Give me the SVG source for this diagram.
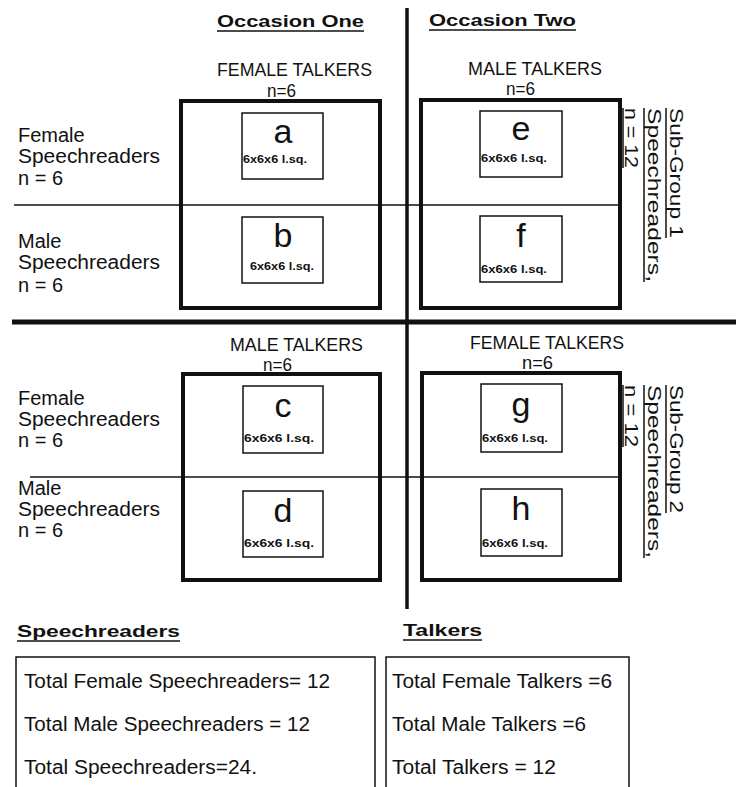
<svg xmlns="http://www.w3.org/2000/svg" width="736" height="787" viewBox="0 0 736 787">
<style>
text{font-family:"Liberation Sans",Arial,sans-serif;fill:#111}
.hd{font-size:17px;font-weight:bold}
.tl{font-size:17.5px}
.lb{font-size:20px}
.big{font-size:34px;text-anchor:middle}
.sm{font-size:11.5px;font-weight:bold}
.rot{font-size:18px}
.outer{fill:none;stroke:#111;stroke-width:4}
.inner{fill:none;stroke:#111;stroke-width:1.5}
.thin{stroke:#111;stroke-width:1.5}
.ul{stroke:#111;stroke-width:1.5}
.tot{font-size:20px}
</style>
<rect width="736" height="787" fill="#fff"/>

<g id="connectors">
  <line x1="407" y1="8" x2="407" y2="609" stroke="#111" stroke-width="3.5"/>
  <line x1="12" y1="322" x2="736" y2="322" stroke="#111" stroke-width="5"/>
  <line class="thin" x1="14" y1="205" x2="622" y2="205"/>
  <line class="thin" x1="30" y1="477" x2="622" y2="477"/>
</g>

<g id="headings">
  <text class="hd" x="217" y="27" textLength="147" lengthAdjust="spacingAndGlyphs">Occasion One</text>
  <line class="ul" x1="217" y1="31" x2="364" y2="31"/>
  <text class="hd" x="429" y="26" textLength="147" lengthAdjust="spacingAndGlyphs">Occasion Two</text>
  <line class="ul" x1="429" y1="30" x2="576" y2="30"/>
</g>

<g id="row-labels">
  <text class="lb" x="18" y="142">Female</text>
  <text class="lb" x="18" y="163" textLength="142" lengthAdjust="spacingAndGlyphs">Speechreaders</text>
  <text class="lb" x="18" y="185">n = 6</text>
  <text class="lb" x="18" y="248">Male</text>
  <text class="lb" x="18" y="269" textLength="142" lengthAdjust="spacingAndGlyphs">Speechreaders</text>
  <text class="lb" x="18" y="292">n = 6</text>
  <text class="lb" x="18" y="405">Female</text>
  <text class="lb" x="18" y="426" textLength="142" lengthAdjust="spacingAndGlyphs">Speechreaders</text>
  <text class="lb" x="18" y="447">n = 6</text>
  <text class="lb" x="18" y="495">Male</text>
  <text class="lb" x="18" y="516" textLength="142" lengthAdjust="spacingAndGlyphs">Speechreaders</text>
  <text class="lb" x="18" y="537">n = 6</text>
</g>

<g id="occasion1-top">
  <text class="tl" x="217" y="76" textLength="155" lengthAdjust="spacingAndGlyphs">FEMALE TALKERS</text>
  <text class="tl" x="267" y="97" textLength="29" lengthAdjust="spacingAndGlyphs">n=6</text>
  <rect class="outer" x="181" y="101" width="199" height="207"/>
</g>
<g id="cell-a">
  <rect class="inner" x="242" y="113" width="81" height="66"/>
  <text class="big" x="283" y="143">a</text>
  <text class="sm" x="243" y="163" textLength="64" lengthAdjust="spacingAndGlyphs">6x6x6 l.sq.</text>
</g>
<g id="cell-b">
  <rect class="inner" x="242" y="217" width="81" height="66"/>
  <text class="big" x="283" y="247">b</text>
  <text class="sm" x="250" y="270" textLength="64" lengthAdjust="spacingAndGlyphs">6x6x6 l.sq.</text>
</g>

<g id="occasion2-top">
  <text class="tl" x="468" y="75" textLength="134" lengthAdjust="spacingAndGlyphs">MALE TALKERS</text>
  <text class="tl" x="506" y="95" textLength="29" lengthAdjust="spacingAndGlyphs">n=6</text>
  <rect class="outer" x="421" y="100" width="199" height="208"/>
</g>
<g id="cell-e">
  <rect class="inner" x="480" y="111" width="82" height="66"/>
  <text class="big" x="521" y="140">e</text>
  <text class="sm" x="481" y="162" textLength="66" lengthAdjust="spacingAndGlyphs">6x6x6 l.sq.</text>
</g>
<g id="cell-f">
  <rect class="inner" x="480" y="216" width="82" height="66"/>
  <text class="big" x="521" y="247">f</text>
  <text class="sm" x="481" y="273" textLength="66" lengthAdjust="spacingAndGlyphs">6x6x6 l.sq.</text>
</g>

<g id="subgroup1">
  <text class="rot" transform="translate(670,108) rotate(90)" textLength="130" lengthAdjust="spacingAndGlyphs">Sub-Group 1</text>
  <line class="ul" x1="666" y1="108" x2="666" y2="238"/>
  <text class="rot" transform="translate(648,108) rotate(90)" textLength="174" lengthAdjust="spacingAndGlyphs">Speechreaders,</text>
  <line class="ul" x1="644" y1="108" x2="644" y2="282"/>
  <text class="rot" transform="translate(625,108) rotate(90)" textLength="60" lengthAdjust="spacingAndGlyphs">n = 12</text>
  <line class="ul" x1="623" y1="108" x2="623" y2="168" stroke-width="2.5"/>
</g>

<g id="occasion1-bottom">
  <text class="tl" x="230" y="351" textLength="133" lengthAdjust="spacingAndGlyphs">MALE TALKERS</text>
  <text class="tl" x="263" y="371" textLength="29" lengthAdjust="spacingAndGlyphs">n=6</text>
  <rect class="outer" x="183" y="374" width="197" height="206"/>
</g>
<g id="cell-c">
  <rect class="inner" x="243" y="386" width="80" height="67"/>
  <text class="big" x="283" y="417">c</text>
  <text class="sm" x="244" y="442" textLength="70" lengthAdjust="spacingAndGlyphs">6x6x6 l.sq.</text>
</g>
<g id="cell-d">
  <rect class="inner" x="243" y="491" width="80" height="66"/>
  <text class="big" x="283" y="522">d</text>
  <text class="sm" x="244" y="547" textLength="70" lengthAdjust="spacingAndGlyphs">6x6x6 l.sq.</text>
</g>

<g id="occasion2-bottom">
  <text class="tl" x="470" y="349" textLength="154" lengthAdjust="spacingAndGlyphs">FEMALE TALKERS</text>
  <text class="tl" x="522" y="369" textLength="31" lengthAdjust="spacingAndGlyphs">n=6</text>
  <rect class="outer" x="422" y="373" width="198" height="207"/>
</g>
<g id="cell-g">
  <rect class="inner" x="481" y="384" width="81" height="68"/>
  <text class="big" x="521" y="416">g</text>
  <text class="sm" x="482" y="442" textLength="66" lengthAdjust="spacingAndGlyphs">6x6x6 l.sq.</text>
</g>
<g id="cell-h">
  <rect class="inner" x="481" y="489" width="81" height="67"/>
  <text class="big" x="521" y="520">h</text>
  <text class="sm" x="482" y="547" textLength="66" lengthAdjust="spacingAndGlyphs">6x6x6 l.sq.</text>
</g>

<g id="subgroup2">
  <text class="rot" transform="translate(670,385) rotate(90)" textLength="128" lengthAdjust="spacingAndGlyphs">Sub-Group 2</text>
  <line class="ul" x1="666" y1="385" x2="666" y2="513"/>
  <text class="rot" transform="translate(648,385) rotate(90)" textLength="173" lengthAdjust="spacingAndGlyphs">Speechreaders,</text>
  <line class="ul" x1="644" y1="385" x2="644" y2="558"/>
  <text class="rot" transform="translate(625,385) rotate(90)" textLength="62" lengthAdjust="spacingAndGlyphs">n = 12</text>
  <line class="ul" x1="623" y1="385" x2="623" y2="447" stroke-width="2.5"/>
</g>

<g id="speechreaders-summary">
  <text class="hd" x="17" y="637" textLength="163" lengthAdjust="spacingAndGlyphs">Speechreaders</text>
  <line class="ul" x1="17" y1="641" x2="180" y2="641"/>
  <rect class="inner" x="16" y="657" width="359" height="150"/>
  <text class="tot" x="24" y="688" textLength="306" lengthAdjust="spacingAndGlyphs">Total Female Speechreaders= 12</text>
  <text class="tot" x="24" y="731" textLength="286" lengthAdjust="spacingAndGlyphs">Total Male Speechreaders = 12</text>
  <text class="tot" x="24" y="774" textLength="233" lengthAdjust="spacingAndGlyphs">Total Speechreaders=24.</text>
</g>

<g id="talkers-summary">
  <text class="hd" x="403" y="636" textLength="79" lengthAdjust="spacingAndGlyphs">Talkers</text>
  <line class="ul" x1="403" y1="640" x2="482" y2="640"/>
  <rect class="inner" x="386" y="657" width="243" height="150"/>
  <text class="tot" x="392" y="688" textLength="220" lengthAdjust="spacingAndGlyphs">Total Female Talkers =6</text>
  <text class="tot" x="392" y="731" textLength="194" lengthAdjust="spacingAndGlyphs">Total Male Talkers =6</text>
  <text class="tot" x="392" y="774" textLength="164" lengthAdjust="spacingAndGlyphs">Total Talkers = 12</text>
</g>
</svg>
